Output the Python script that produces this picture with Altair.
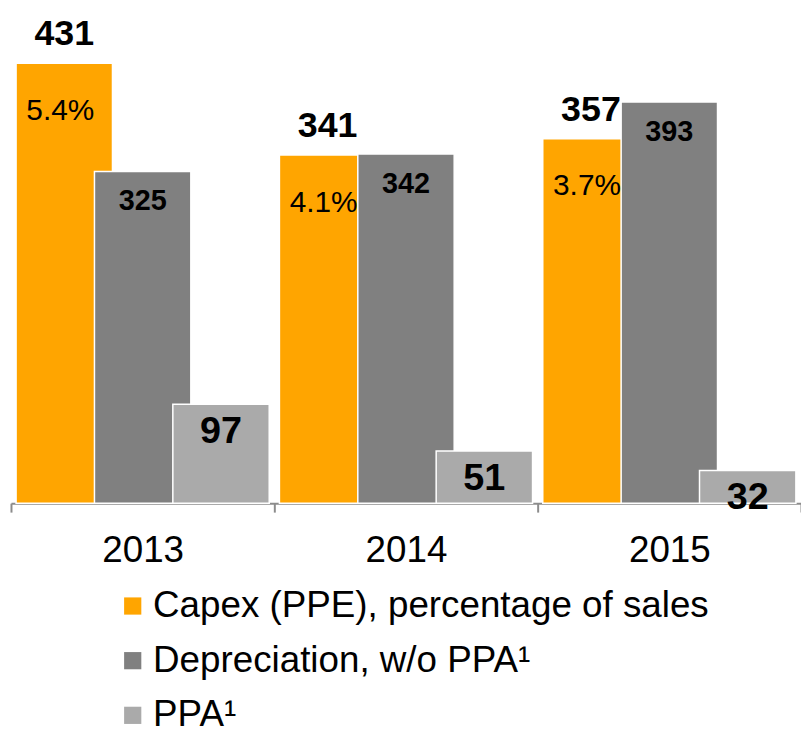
import altair as alt
import pandas as pd

years = ["2013", "2014", "2015"]
series = ["Capex (PPE), percentage of sales", "Depreciation, w/o PPA¹", "PPA¹"]
capex = [431, 341, 357]
capex_pct = ["5.4%", "4.1%", "3.7%"]
depreciation = [325, 342, 393]
ppa = [97, 51, 32]
colors = ["#FFA500", "#808080", "#AAAAAA"]

rows = []
for s, vals in zip(series, [capex, depreciation, ppa]):
    for i, y in enumerate(years):
        rows.append({"year": y, "series": s, "value": vals[i],
                     "pct": capex_pct[i] if s == series[0] else ""})
df = pd.DataFrame(rows)

FONT = "Liberation Sans"

x = alt.X("year:N", title=None, sort=years,
          scale=alt.Scale(paddingInner=0, paddingOuter=0),
          axis=alt.Axis(labelFontSize=37, labelFont=FONT, labelColor="black",
                        labelAngle=0, labelPadding=21, domainColor="#8c8c8c",
                        domainWidth=2, tickColor="#8c8c8c", tickWidth=2,
                        tickSize=9, tickBand="extent", grid=False))
xo = alt.XOffset("series:N", sort=series,
                 scale=alt.Scale(domain=series, paddingInner=0, paddingOuter=0.18))
y = alt.Y("value:Q", axis=None, scale=alt.Scale(domain=[0, 478]))

base = alt.Chart(df)

bars = base.mark_bar(width=97, stroke="white", strokeWidth=1.5).encode(
    x=x, xOffset=xo, y=y,
    color=alt.Color("series:N", sort=series,
                    scale=alt.Scale(domain=series, range=colors),
                    legend=alt.Legend(title=None, orient="none", legendX=104, legendY=576,
                                      direction="vertical", labelFontSize=37, labelFont=FONT,
                                      labelColor="black", symbolType="square", symbolSize=300,
                                      symbolStrokeWidth=0, labelOffset=2, rowPadding=17,
                                      labelLimit=0)),
)

def sub(name):
    return base.transform_filter(alt.datum.series == name)

capex_lbl = sub(series[0]).mark_text(baseline="middle", dy=-29, fontSize=36,
                                     fontWeight="bold", font=FONT, color="black").encode(
    x=x, xOffset=xo, y=y, text="value:Q")
pct_lbl = sub(series[0]).mark_text(baseline="middle", dy=48, dx=-4, fontSize=30,
                                   font=FONT, color="black").encode(
    x=x, xOffset=xo, y=y, text="pct:N")
dep_lbl = sub(series[1]).mark_text(baseline="middle", dy=30, fontSize=29,
                                   fontWeight="bold", font=FONT, color="black").encode(
    x=x, xOffset=xo, y=y, text="value:Q")
ppa_lbl = sub(series[2]).mark_text(baseline="middle", dy=28, fontSize=38,
                                   fontWeight="bold", font=FONT, color="black").encode(
    x=x, xOffset=xo, y=y, text="value:Q")

chart = alt.layer(bars, capex_lbl, pct_lbl, dep_lbl, ppa_lbl).properties(
    width=795, height=491,
    autosize=alt.AutoSizeParams(type="none"),
    padding={"left": 3, "top": 5, "right": 0, "bottom": 230},
).configure_view(stroke=None)

chart.save("out.html", embed_options={"renderer": "svg", "actions": False})
